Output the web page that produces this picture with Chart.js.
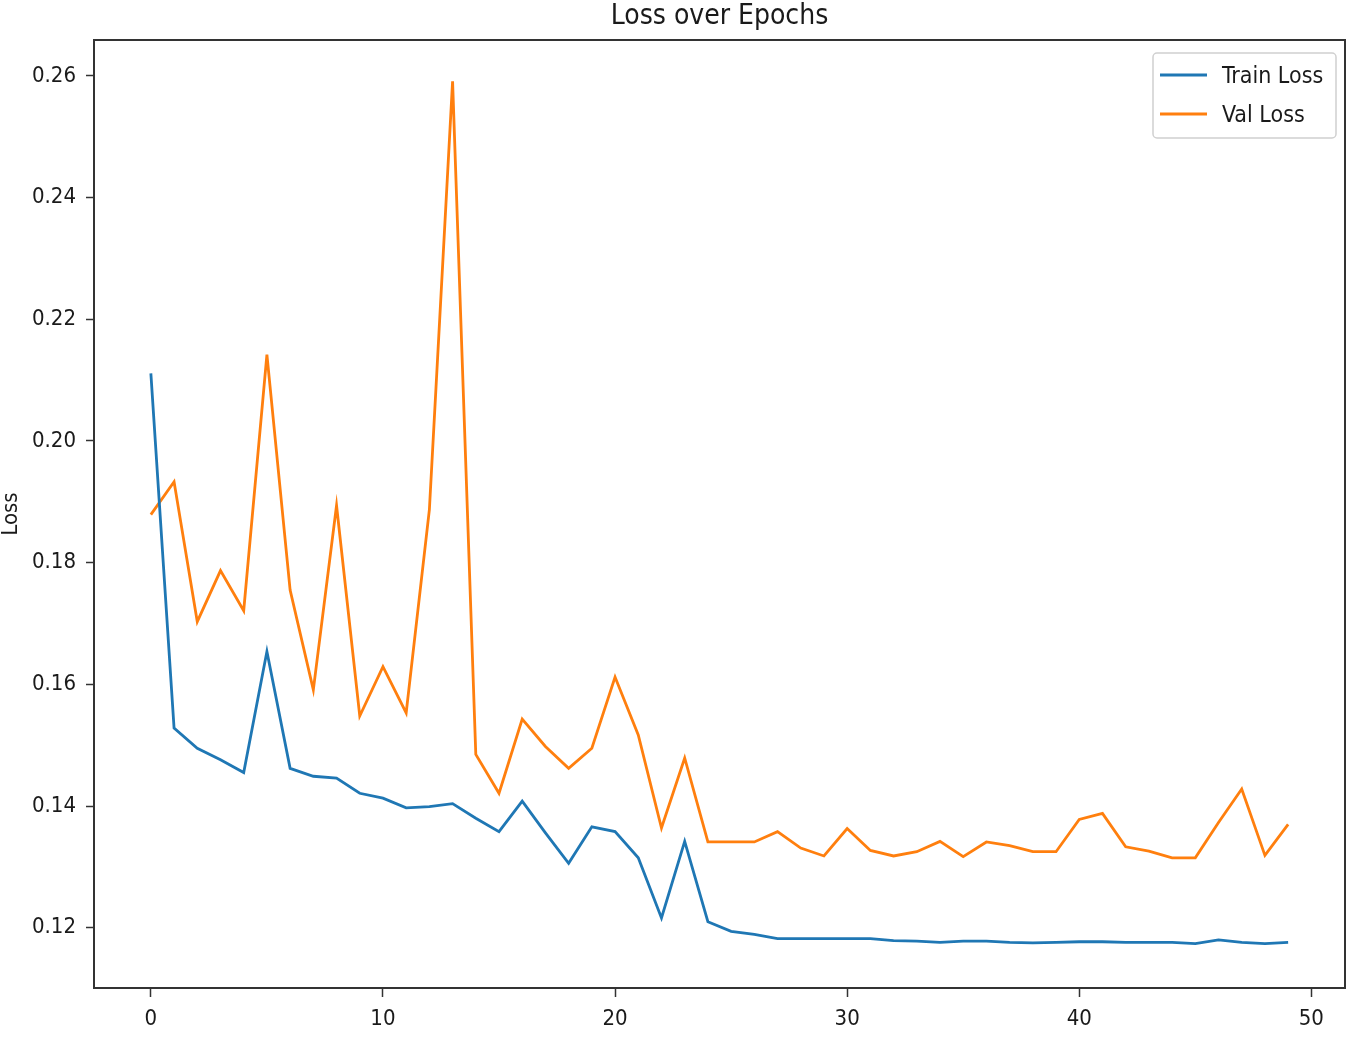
<!DOCTYPE html>
<html>
<head>
<meta charset="utf-8">
<script src="https://cdn.jsdelivr.net/npm/chart.js@4.4.1/dist/chart.umd.min.js"></script>
<style>
  html, body { margin: 0; padding: 0; background: #fff; overflow: hidden; }
  #wrap { width: 1349px; height: 1047px; overflow: hidden; }
  canvas { display: block; }
</style>
</head>
<body>
<div id="wrap"><canvas id="c" width="1349" height="1075"></canvas></div>
<script>
const epochs = [0,1,2,3,4,5,6,7,8,9,10,11,12,13,14,15,16,17,18,19,20,21,22,23,24,25,26,27,28,29,30,31,32,33,34,35,36,37,38,39,40,41,42,43,44,45,46,47,48,49];
const trainLoss = [0.2111,0.1528,0.1495,0.1476,0.1455,0.1654,0.1462,0.1449,0.1446,0.1421,0.1413,0.1397,0.1399,0.1404,0.1380,0.1358,0.1408,0.1356,0.1306,0.1366,0.1358,0.1315,0.1216,0.1342,0.1210,0.1194,0.1189,0.1182,0.1182,0.1182,0.1182,0.1182,0.1179,0.1178,0.1176,0.1178,0.1178,0.1176,0.1175,0.1176,0.1177,0.1177,0.1176,0.1176,0.1176,0.1174,0.1180,0.1176,0.1174,0.1176];
const valLoss = [0.1879,0.1933,0.1703,0.1787,0.1721,0.2142,0.1755,0.1591,0.1894,0.1548,0.1629,0.1553,0.1887,0.2591,0.1485,0.1421,0.1543,0.1498,0.1462,0.1495,0.1612,0.1517,0.1364,0.1479,0.1341,0.1341,0.1341,0.1358,0.1331,0.1318,0.1363,0.1327,0.1318,0.1325,0.1342,0.1317,0.1341,0.1335,0.1325,0.1325,0.1378,0.1388,0.1333,0.1326,0.1315,0.1315,0.1373,0.1428,0.1319,0.1370];
const xTicks = [0,10,20,30,40,50];
const yTicks = [0.12,0.14,0.16,0.18,0.20,0.22,0.24,0.26];
const seriesNames = ['Train Loss','Val Loss'];
const titleText = 'Loss over Epochs';
const xTitle = 'Epoch';
const yTitle = 'Loss';

const FONT = "'DejaVu Sans Condensed', 'DejaVu Sans', sans-serif";
const TEXT = '#1a1a1a';

const framePlugin = {
  id: 'frame',
  afterDatasetsDraw(chart) {
    const {ctx, chartArea: a} = chart;
    ctx.save();
    ctx.strokeStyle = '#333';
    ctx.lineWidth = 2;
    ctx.strokeRect(a.left, a.top, a.right - a.left, a.bottom - a.top);
    ctx.restore();
  }
};

const legendPlugin = {
  id: 'innerLegend',
  afterDraw(chart) {
    const {ctx, chartArea: a} = chart;
    const w = 183, h = 85;
    const x0 = a.right - 9 - w, y0 = a.top + 13;
    ctx.save();
    ctx.beginPath();
    if (ctx.roundRect) ctx.roundRect(x0, y0, w, h, 4); else ctx.rect(x0, y0, w, h);
    ctx.fillStyle = 'rgba(255,255,255,0.85)';
    ctx.fill();
    ctx.strokeStyle = '#d0d0d0';
    ctx.lineWidth = 1.5;
    ctx.stroke();
    ctx.font = '23px ' + FONT;
    ctx.textBaseline = 'middle';
    ctx.textAlign = 'left';
    chart.data.datasets.forEach((ds, i) => {
      const yy = y0 + 22 + i * 39;
      ctx.strokeStyle = ds.borderColor;
      ctx.lineWidth = 3;
      ctx.beginPath();
      ctx.moveTo(x0 + 7, yy);
      ctx.lineTo(x0 + 54, yy);
      ctx.stroke();
      ctx.fillStyle = TEXT;
      ctx.fillText(ds.label, x0 + 69, yy + 2);
    });
    ctx.restore();
  }
};

new Chart(document.getElementById('c'), {
  type: 'line',
  data: {
    datasets: [
      {
        label: seriesNames[0],
        data: epochs.map((e, i) => ({x: e, y: trainLoss[i]})),
        borderColor: '#1f77b4',
        backgroundColor: '#1f77b4',
        borderWidth: 2.8,
        pointRadius: 0,
        tension: 0
      },
      {
        label: seriesNames[1],
        data: epochs.map((e, i) => ({x: e, y: valLoss[i]})),
        borderColor: '#ff7f0e',
        backgroundColor: '#ff7f0e',
        borderWidth: 2.8,
        pointRadius: 0,
        tension: 0
      }
    ]
  },
  options: {
    responsive: false,
    animation: false,
    devicePixelRatio: 1,
    layout: { padding: { left: 0, right: 4, top: 0, bottom: 0 } },
    plugins: {
      legend: { display: false },
      tooltip: { enabled: false },
      title: {
        display: true,
        text: titleText,
        fullSize: false,
        color: TEXT,
        font: { family: FONT, size: 28, weight: 'normal', lineHeight: 1.2 },
        padding: { top: 0, bottom: 6.4 }
      }
    },
    scales: {
      x: {
        type: 'linear',
        min: -2.45,
        max: 51.45,
        afterBuildTicks: (s) => { s.ticks = xTicks.map(v => ({value: v})); },
        afterFit: (s) => { s.height = 87; },
        ticks: {
          color: TEXT,
          font: { family: FONT, size: 22 },
          padding: 9,
          maxRotation: 0,
          includeBounds: false,
          callback: (v) => String(v)
        },
        grid: { display: true, drawOnChartArea: false, drawTicks: true, tickLength: 9, color: '#333', tickWidth: 1.5 },
        border: { display: true, color: '#333', width: 2 },
        title: {
          display: true,
          text: xTitle,
          color: TEXT,
          font: { family: FONT, size: 22, lineHeight: 1.2 },
          padding: { top: 0, bottom: 3.8 }
        }
      },
      y: {
        type: 'linear',
        min: 0.1101,
        max: 0.2659,
        afterBuildTicks: (s) => { s.ticks = yTicks.map(v => ({value: v})); },
        afterFit: (s) => { s.width = 94; },
        ticks: {
          color: TEXT,
          font: { family: FONT, size: 22 },
          padding: 10,
          includeBounds: false,
          callback: (v) => Number(v).toFixed(2)
        },
        grid: { display: true, drawOnChartArea: false, drawTicks: true, tickLength: 8, color: '#333', tickWidth: 1.5 },
        border: { display: true, color: '#333', width: 2 },
        title: {
          display: true,
          text: yTitle,
          color: TEXT,
          font: { family: FONT, size: 22, lineHeight: 1.0 },
          padding: { top: 0, bottom: 0 }
        }
      }
    }
  },
  plugins: [framePlugin, legendPlugin]
});
</script>
</body>
</html>
